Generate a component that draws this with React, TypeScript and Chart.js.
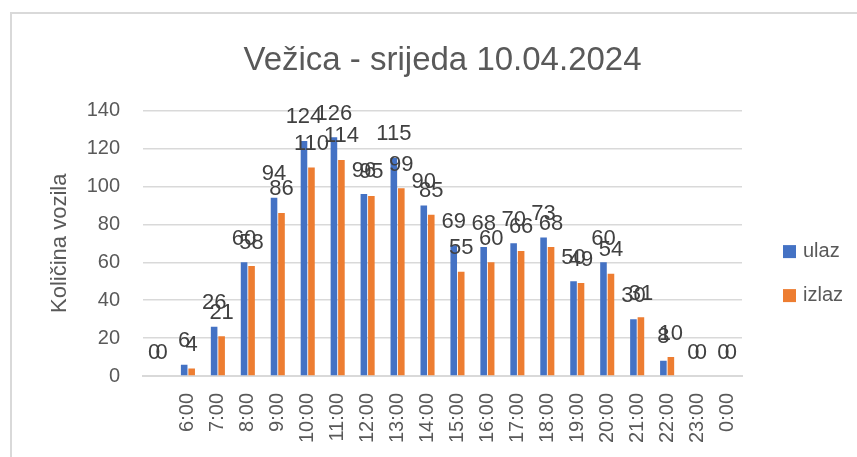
import React, { useEffect, useRef } from "react";
import { Chart, registerables } from "chart.js";

Chart.register(...registerables);

const categories = ["", "6:00", "7:00", "8:00", "9:00", "10:00", "11:00", "12:00", "13:00", "14:00", "15:00", "16:00", "17:00", "18:00", "19:00", "20:00", "21:00", "22:00", "23:00", "0:00"];
const ulaz = [0, 6, 26, 60, 94, 124, 126, 96, 115, 90, 69, 68, 70, 73, 50, 60, 30, 8, 0, 0];
const izlaz = [0, 4, 21, 58, 86, 110, 114, 95, 99, 85, 55, 60, 66, 68, 49, 54, 31, 10, 0, 0];
const seriesNames = ["ulaz", "izlaz"];
const seriesColors = ["#4472C4", "#ED7D31"];
const titleText = "Vežica - srijeda 10.04.2024";
const yAxisTitle = "Količina vozila";
const yMin = 0;
const yMax = 140;
const yStep = 20;

const FONT = "'Liberation Sans', Arial, sans-serif";

const dataLabelPlugin = {
  id: "dataLabels",
  afterDatasetsDraw(chart: any) {
    const ctx = chart.ctx;
    ctx.save();
    ctx.font = `22px ${FONT}`;
    ctx.fillStyle = "#404040";
    ctx.textAlign = "center";
    ctx.textBaseline = "alphabetic";
    chart.data.datasets.forEach((ds: any, i: number) => {
      const meta = chart.getDatasetMeta(i);
      meta.data.forEach((bar: any, j: number) => {
        ctx.fillText(String(ds.data[j]), bar.x, bar.y - 17.5);
      });
    });
    ctx.restore();
  },
};

const sideLegendPlugin = {
  id: "sideLegend",
  afterDraw(chart: any) {
    const ctx = chart.ctx;
    const area = chart.chartArea;
    ctx.save();
    ctx.font = `20px ${FONT}`;
    ctx.textAlign = "left";
    ctx.textBaseline = "middle";
    chart.data.datasets.forEach((ds: any, i: number) => {
      const x = area.right + 41;
      const cy = area.top + 141 + i * 44;
      ctx.fillStyle = ds.backgroundColor;
      ctx.fillRect(x, cy - 6.5, 13, 13);
      ctx.fillStyle = "#595959";
      ctx.fillText(ds.label, x + 20, cy);
    });
    ctx.restore();
  },
};

export default function App() {
  const ref = useRef<HTMLCanvasElement | null>(null);

  useEffect(() => {
    if (!ref.current) return;
    const chart = new Chart(ref.current, {
      type: "bar",
      data: {
        labels: categories,
        datasets: [
          { label: seriesNames[0], data: ulaz, backgroundColor: seriesColors[0], categoryPercentage: 0.5, barPercentage: 0.88 },
          { label: seriesNames[1], data: izlaz, backgroundColor: seriesColors[1], categoryPercentage: 0.5, barPercentage: 0.88 },
        ],
      },
      options: {
        animation: false,
        responsive: false,
        devicePixelRatio: 1,
        layout: { padding: { left: 23, right: 115, top: 0, bottom: 14 } },
        plugins: {
          legend: { display: false },
          tooltip: { enabled: false },
          title: {
            display: true,
            text: titleText,
            fullSize: false,
            color: "#595959",
            font: { family: FONT, size: 33, weight: "normal" },
            padding: { top: 27, bottom: 30 },
          },
        },
        scales: {
          x: {
            grid: { display: false, drawTicks: false },
            border: { display: true, color: "#d9d9d9", width: 2 },
            ticks: {
              autoSkip: false,
              minRotation: 90,
              maxRotation: 90,
              padding: 17,
              color: "#595959",
              font: { family: FONT, size: 20 },
            },
            afterFit(scale: any) {
              scale.height = 67;
            },
          },
          y: {
            min: yMin,
            max: yMax,
            grid: { color: "#d9d9d9", lineWidth: 1.5, drawTicks: false },
            border: { display: false },
            ticks: {
              stepSize: yStep,
              padding: 23,
              color: "#595959",
              font: { family: FONT, size: 20 },
            },
            title: {
              display: true,
              text: yAxisTitle,
              color: "#595959",
              font: { family: FONT, size: 22 },
              padding: { top: 12, bottom: 12 },
            },
            afterFit(scale: any) {
              scale.width = 108;
            },
          },
        },
      },
      plugins: [dataLabelPlugin, sideLegendPlugin],
    });
    return () => chart.destroy();
  }, []);

  return (
    <div
      style={{
        position: "fixed",
        left: 10,
        top: 12,
        width: 847,
        height: 445,
        boxSizing: "border-box",
        borderLeft: "2px solid #d9d9d9",
        borderTop: "2px solid #d9d9d9",
        background: "#ffffff",
      }}
    >
      <canvas ref={ref} width={845} height={443} style={{ display: "block", width: 845, height: 443 }} />
    </div>
  );
}
